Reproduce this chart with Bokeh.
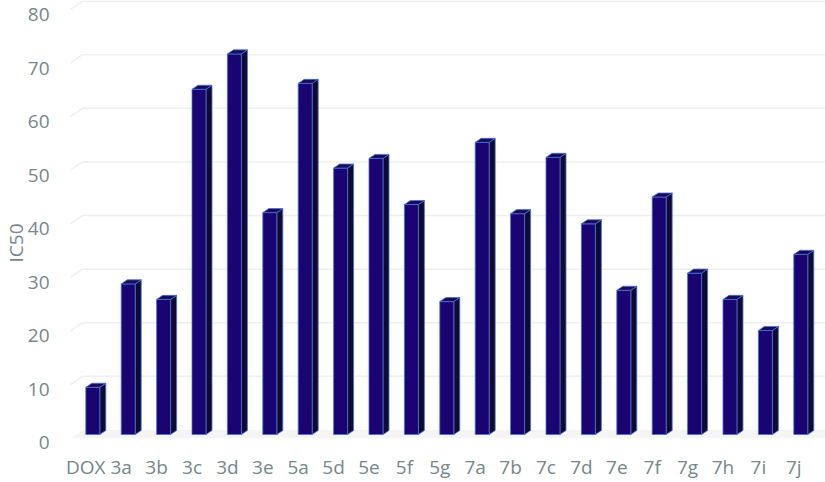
from bokeh.plotting import figure
from bokeh.models import LinearAxis, Range1d, FixedTicker, ColumnDataSource, Title
from bokeh.transform import dodge
from bokeh.embed import file_html
from bokeh.resources import INLINE

categories = ["DOX", "3a", "3b", "3c", "3d", "3e", "5a", "5d", "5e", "5f", "5g",
              "7a", "7b", "7c", "7d", "7e", "7f", "7g", "7h", "7i", "7j"]
ic50 = [8.8, 28.1, 25.2, 64.4, 71.0, 41.4, 65.5, 49.7, 51.5, 42.9, 24.8,
        54.5, 41.2, 51.7, 39.3, 26.9, 44.3, 30.1, 25.2, 19.4, 33.6]
y_ticks = [0, 10, 20, 30, 40, 50, 60, 70, 80]
y_title = "IC50"

# styling / geometry constants
W = 0.395      # front face width (category units)
DX = 0.17      # 3D depth, x
DY = 0.76      # 3D depth, y (value units)
FRONT = "#1a0472"
SIDE = "#120a2e"
TOP = "#1b0a58"
EDGE = "#4274da"
TXT = "#74878a"
FONT = "Open Sans"

idx = list(range(len(categories)))
src = ColumnDataSource(dict(x=idx, v=ic50))

side_xs = [[i + W, i + W + DX, i + W + DX, i + W] for i in idx]
side_ys = [[0, DY, v + DY, v] for v in ic50]
top_xs = [[i, i + W, i + W + DX, i + DX] for i in idx]
top_ys = [[v, v, v + DY, v + DY] for v in ic50]

p = figure(width=825, height=482, output_backend="svg", toolbar_location=None,
           x_axis_location=None, y_axis_location=None,
           x_range=Range1d(-0.602, 20.896), y_range=Range1d(-1.679, 80.97),
           min_border_left=64, min_border_right=0, min_border_top=0, min_border_bottom=39)
p.outline_line_color = None
p.background_fill_color = "white"
p.grid.visible = False
p.extra_y_ranges = {"lab": Range1d(-0.187, 82.62)}

# floor band and gridlines (back wall + side wall diagonal)
xl_front, xl_back, xr = -0.432, -0.10, 21.5
p.patch([xl_front, xr, xr, xl_back], [-0.7, -0.7, 0.85, 0.85], fill_color="#f5f5f5", line_color=None)
g_xs = [[xl_front, xl_back, xr] for t in y_ticks[1:]]
g_ys = [[t - 0.7, t + 0.85, t + 0.85] for t in y_ticks[1:]]
p.multi_line(g_xs, g_ys, line_color="#efefef", line_width=1.5)

# bars
p.patches(side_xs, side_ys, fill_color=SIDE, line_color=EDGE, line_width=0.8)
p.vbar(x=dodge("x", W / 2), top="v", bottom=0, width=W, source=src,
       fill_color=FRONT, line_color=EDGE, line_width=0.8)
p.patches(top_xs, top_ys, fill_color=TOP, line_color=EDGE, line_width=0.8)

yax = LinearAxis(y_range_name="lab", ticker=FixedTicker(ticks=y_ticks))
yax.axis_line_color = None
yax.major_tick_line_color = None
yax.minor_tick_line_color = None
yax.major_tick_in = 0
yax.major_tick_out = 0
yax.major_label_standoff = 15
yax.major_label_text_font = FONT
yax.major_label_text_font_size = "19px"
yax.major_label_text_color = TXT
p.add_layout(yax, "left")

p.add_layout(Title(text=y_title, align="left", offset=181, standoff=-8,
                   text_line_height=0.4, text_baseline="middle",
                   text_font=FONT, text_font_size="19px", text_font_style="normal",
                   text_color=TXT), "left")

xax = LinearAxis(ticker=FixedTicker(ticks=idx),
                 major_label_overrides={i: c for i, c in zip(idx, categories)})
xax.axis_line_color = None
xax.major_tick_line_color = None
xax.minor_tick_line_color = None
xax.major_tick_in = 0
xax.major_tick_out = 0
xax.major_label_standoff = 10
xax.major_label_text_font = FONT
xax.major_label_text_font_size = "19px"
xax.major_label_text_color = TXT
p.add_layout(xax, "below")

open("out.html", "w").write(file_html(p, INLINE))
